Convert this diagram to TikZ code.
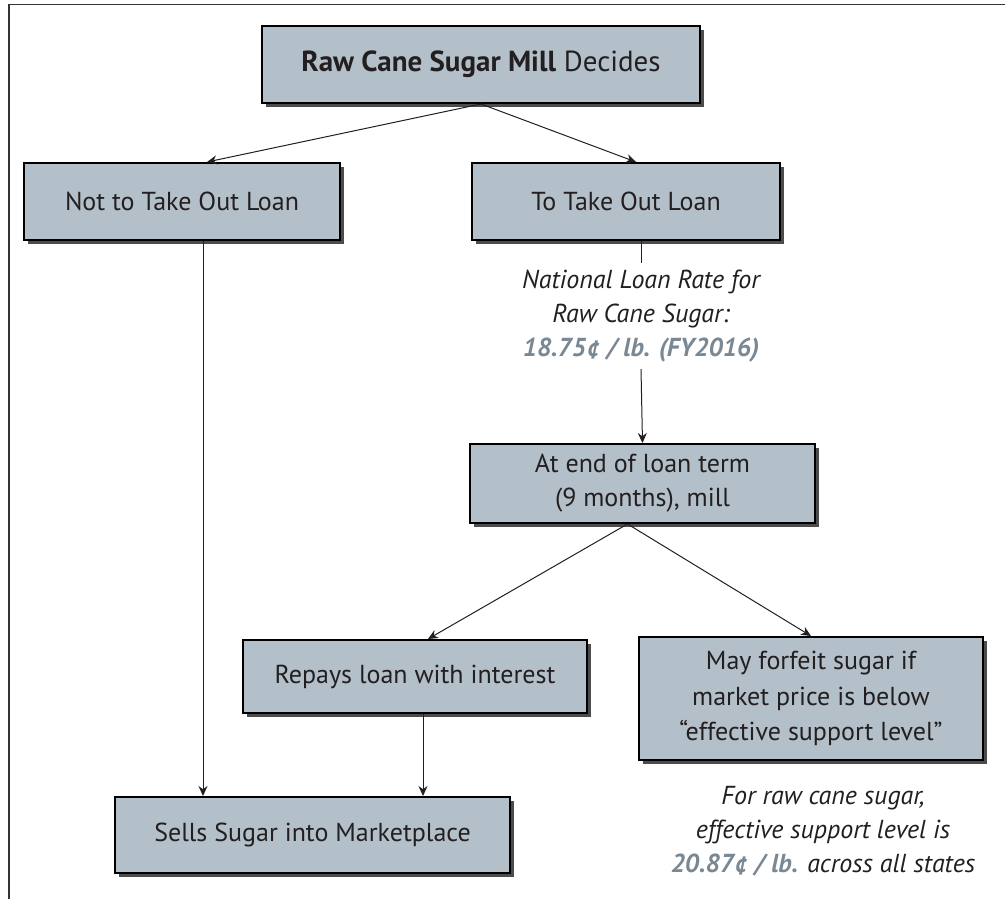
\documentclass[tikz,border=0pt]{standalone}
\usepackage{fontspec}
\setmainfont{PT Sans}
\usetikzlibrary{arrows.meta,shadows}
\definecolor{boxfill}{RGB}{180,192,201}
\definecolor{inkgrey}{RGB}{35,31,32}
\definecolor{numgrey}{RGB}{122,136,148}
\tikzset{
    box/.style={draw=black, line width=1pt, fill=boxfill, text=inkgrey, align=center,
        font=\fontsize{13}{17}\selectfont, inner sep=0pt,
        drop shadow={shadow xshift=2pt, shadow yshift=-2pt, fill=black!70, opacity=1}},
    note/.style={align=center, text=inkgrey, font=\fontsize{13}{17}\selectfont\itshape},
    link/.style={line width=0.5pt, draw=inkgrey, -{Stealth[length=5pt,width=4.5pt]}},
}
\newcommand{\grey}[1]{\textcolor{numgrey}{\bfseries #1}}
\begin{document}
\begin{tikzpicture}[x=0.5pt, y=-0.5pt]
    \useasboundingbox (0,0) rectangle (1005,899);
    \draw[line width=0.75pt, black!80] (9,899) -- (9,4.5) -- (1005,4.5);

    % Nodes
    \node[box, minimum width=219pt, minimum height=38.5pt, font=\fontsize{14.5}{17}\selectfont] (mill) at (481, 64.5) {\textbf{Raw Cane Sugar Mill} Decides};
    \node[box, minimum width=158pt, minimum height=38.5pt] (notloan) at (182, 201.5) {Not to Take Out Loan};
    \node[box, minimum width=154pt, minimum height=38.5pt] (toloan) at (626, 201.5) {To Take Out Loan};
    \node[note] (rate) at (641, 316) {National Loan Rate for\\Raw Cane Sugar:\\\grey{18.75¢ / lb. (FY2016)}};
    \node[box, minimum width=172.5pt, minimum height=39.5pt] (endterm) at (642.5, 483.5) {At end of loan term\\(9 months), mill};
    \node[box, minimum width=172pt, minimum height=61.5pt, font=\fontsize{13}{17.75}\selectfont] (forfeit) at (811, 698.5) {May forfeit sugar if\\market price is below\\“effective support level”};
    \node[box, minimum width=172pt, minimum height=36.5pt] (repays) at (415, 676.5) {Repays loan with interest};
    \node[box, minimum width=197.5pt, minimum height=38pt] (sells) at (312.5, 835) {Sells Sugar into Marketplace};
    \node[note] (support) at (823, 831) {For raw cane sugar,\\effective support level is\\\grey{20.87¢ / lb.} across all states};

    % Edges
    \draw[link] (mill.south) -- ([xshift=12.5pt]notloan.north);
    \draw[link] (mill.south) -- ([xshift=5pt]toloan.north);
    \draw[line width=0.5pt, draw=inkgrey] (toloan.south -| rate) -- (rate.north);
    \draw[link] (rate.south) -- (endterm.north);
    \draw[link] ([xshift=-7.5pt]endterm.south) -- ([xshift=6.5pt]repays.north);
    \draw[link] ([xshift=-7.5pt]endterm.south) -- (forfeit.north);
    \draw[link] ([xshift=10.5pt]notloan.south) -- ([xshift=10.5pt]notloan.south |- sells.north);
    \draw[link] ([xshift=4pt]repays.south) -- ([xshift=4pt]repays.south |- sells.north);
\end{tikzpicture}
\end{document}
